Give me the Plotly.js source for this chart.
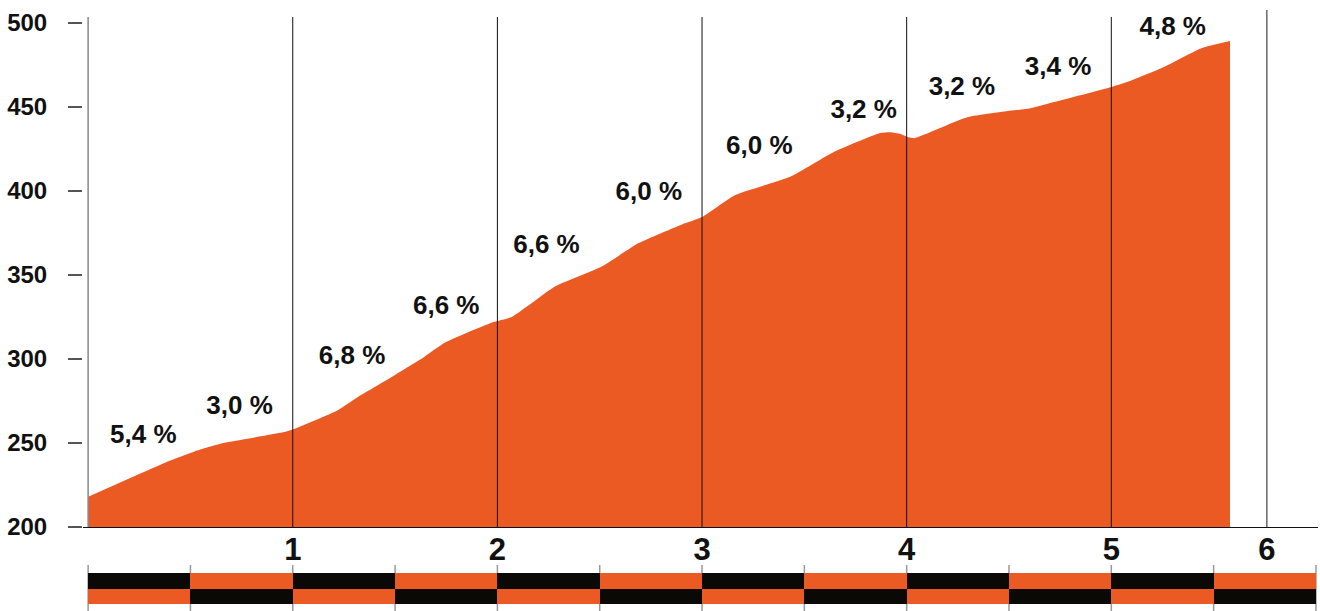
<!DOCTYPE html>
<html>
<head>
<meta charset="utf-8">
<script src="https://cdn.plot.ly/plotly-3.0.1.min.js"></script>
<style>html,body{margin:0;padding:0;background:#fff;}#chart{width:1320px;height:611px;}</style>
</head>
<body>
<div id="chart"></div>
<script>
// Elevation profile (km, metres)
const distanceKm = [0, 0.37, 0.52, 0.66, 0.96, 1.00, 1.22, 1.32, 1.50, 1.64, 1.74, 1.98, 2.07, 2.28, 2.51, 2.69, 2.90, 3.00, 3.16, 3.43, 3.64, 3.87, 3.92, 3.97, 4.01, 4.04, 4.30, 4.61, 4.72, 5.00, 5.10, 5.26, 5.44, 5.58];
const elevationM = [218, 238, 245, 250, 256.5, 258, 269.5, 277.5, 290.5, 301, 309.5, 322, 325, 343, 355, 369, 380, 384.5, 397.5, 408.5, 423, 434.5, 435, 434, 432, 431.5, 444, 449.5, 453, 462, 466, 474, 485, 489.3];

// Gradient labels per half kilometre
const gradeKm = [0.27, 0.74, 1.29, 1.75, 2.24, 2.74, 3.28, 3.79, 4.27, 4.74, 5.30];
const gradeElev = [253.6, 271.4, 301.2, 330.4, 366.7, 398.8, 426.2, 447.6, 461.3, 473.2, 497.0];
const gradeText = ["5,4 %", "3,0 %", "6,8 %", "6,6 %", "6,6 %", "6,0 %", "6,0 %", "3,2 %", "3,2 %", "3,4 %", "4,8 %"];

// Kilometre markers
const kmMarks = [1, 2, 3, 4, 5];
const finishKm = 5.76;
const xTickVals = [1, 2, 3, 4, 5, 5.76];
const xTickText = ["1", "2", "3", "4", "5", "6"];
const yTickVals = [200, 250, 300, 350, 400, 450, 500];

// Half-kilometre strip
const stripCenters = [0.25, 0.75, 1.25, 1.75, 2.25, 2.75, 3.25, 3.75, 4.25, 4.75, 5.25, 5.75];
const stripBounds = [0, 0.5, 1, 1.5, 2, 2.5, 3, 3.5, 4, 4.5, 5, 5.5, 6];

const ORANGE = '#EC5A24';
const BLACK = '#0A0906';
const FONT = 'Liberation Sans, Arial, sans-serif';

const mainBottom = 0.13118;
const stripTop = 0.05281;

const topColors = stripCenters.map((_, i) => i % 2 === 0 ? BLACK : ORANGE);
const botColors = stripCenters.map((_, i) => i % 2 === 0 ? ORANGE : BLACK);

const traces = [
  {
    type: 'scatter', x: distanceKm, y: elevationM, mode: 'lines',
    line: {width: 0, shape: 'spline', smoothing: 0.5, color: ORANGE},
    fill: 'tozeroy', fillcolor: ORANGE, hoverinfo: 'skip', xaxis: 'x', yaxis: 'y'
  },
  {
    type: 'scatter', x: gradeKm, y: gradeElev, mode: 'text', text: gradeText,
    textfont: {family: FONT, size: 26, color: '#111', weight: 700},
    textposition: 'middle center', hoverinfo: 'skip', xaxis: 'x', yaxis: 'y', cliponaxis: false
  },
  {
    type: 'bar', x: stripCenters, y: stripCenters.map(() => 1), base: 0, width: 0.5,
    marker: {color: botColors, line: {width: 0}}, xaxis: 'x', yaxis: 'y2', hoverinfo: 'skip'
  },
  {
    type: 'bar', x: stripCenters, y: stripCenters.map(() => 1), base: stripCenters.map(() => 1), width: 0.5,
    marker: {color: topColors, line: {width: 0}}, xaxis: 'x', yaxis: 'y2', hoverinfo: 'skip'
  }
];

const shapes = [];
shapes.push({type: 'line', xref: 'x', yref: 'paper', x0: 0, x1: 0, y0: mainBottom, y1: 1,
  line: {color: '#888', width: 1.5}, layer: 'above'});
kmMarks.forEach(k => shapes.push({type: 'line', xref: 'x', yref: 'paper', x0: k, x1: k, y0: mainBottom, y1: 1,
  line: {color: '#111', width: 1}, layer: 'above'}));
shapes.push({type: 'line', xref: 'x', yref: 'paper', x0: finishKm, x1: finishKm, y0: mainBottom, y1: 1.0119,
  line: {color: '#666', width: 1.5}, layer: 'above'});
stripBounds.forEach(b => shapes.push({type: 'line', xref: 'x', yref: 'paper', x0: b, x1: b, y0: -0.0119, y1: 0.0664,
  line: {color: '#999', width: 1.5}, layer: 'below'}));

const layout = {
  width: 1320, height: 611,
  margin: {l: 83, r: 2, t: 17, b: 7},
  paper_bgcolor: '#fff', plot_bgcolor: 'rgba(0,0,0,0)',
  showlegend: false, bargap: 0, barmode: 'overlay',
  xaxis: {
    range: [-0.025, 6.01], domain: [0, 1], anchor: 'y',
    tickmode: 'array', tickvals: xTickVals, ticktext: xTickText,
    showgrid: false, zeroline: false, showline: true, linecolor: '#111', linewidth: 1.5,
    ticks: '', tickfont: {family: FONT, size: 31, color: '#111', weight: 700}, ticklabelstandoff: -6
  },
  yaxis: {
    range: [200, 503.6], domain: [mainBottom, 1], anchor: 'x',
    tickmode: 'array', tickvals: yTickVals,
    showgrid: false, zeroline: false, showline: false,
    ticks: 'outside', ticklen: 14, tickwidth: 1.5, tickcolor: '#555',
    tickfont: {family: FONT, size: 24, color: '#111', weight: 700}, ticklabelstandoff: 16
  },
  yaxis2: {
    range: [0, 2], domain: [0, stripTop], anchor: 'x', visible: false, fixedrange: true
  },
  shapes: shapes
};

Plotly.newPlot('chart', traces, layout, {staticPlot: true, displayModeBar: false});
</script>
</body>
</html>
